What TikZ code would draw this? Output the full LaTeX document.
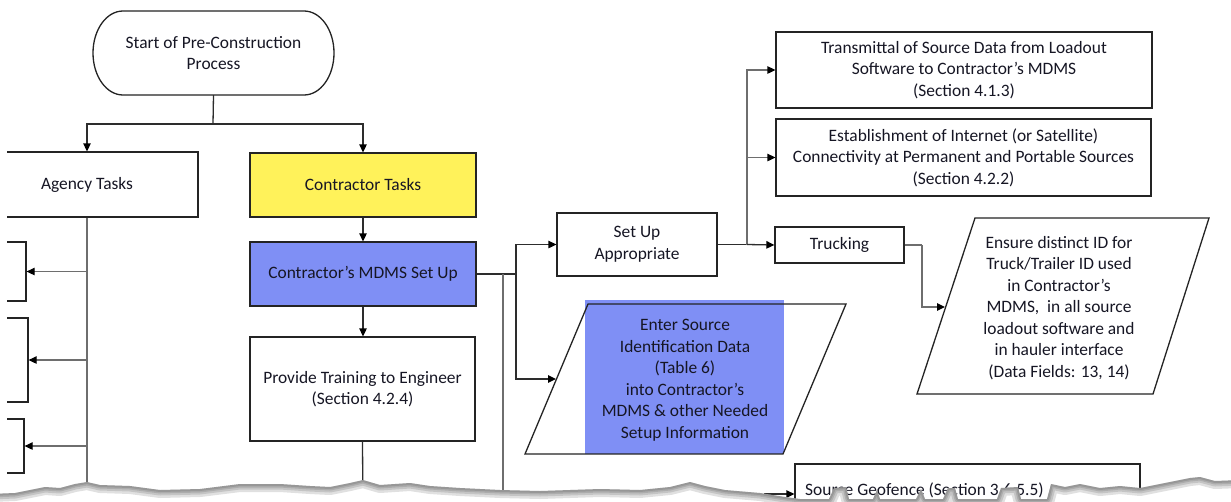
\documentclass[tikz,border=0pt]{standalone}
\usepackage{fontspec}
\setmainfont{Carlito}
\usetikzlibrary{arrows.meta}

\definecolor{ink}{RGB}{22,22,36}
\definecolor{rim}{RGB}{36,36,36}
\definecolor{wire}{RGB}{45,45,45}
\definecolor{wiregray}{RGB}{110,110,110}
\definecolor{taskyellow}{RGB}{255,242,90}
\definecolor{mdmsblue}{RGB}{127,143,245}
\newcommand\flowfont{\fontsize{17.4}{21.5}\selectfont}

\begin{document}
\begin{tikzpicture}[x=1pt,y=-1pt,
  box/.style={draw=rim,line width=1.3pt,inner sep=0pt,text=ink,align=center,font=\flowfont},
  txt/.style={text=ink,align=center,inner sep=0pt,font=\flowfont},
  sized/.style 2 args={minimum width=#1pt,minimum height=#2pt},
  outline/.style={draw=rim,line width=1.3pt,line join=miter},
  wireline/.style={draw=wire,line width=1.3pt},
  grayline/.style={draw=wiregray,line width=1.3pt},
  headed/.style={-{Triangle[length=8pt,width=7.5pt,color=black]}},
  torn/.style={insert path={(-10,494) -- (15,493) -- (30,490) -- (45,487) -- (60,488) -- (75,484) -- (87,482) -- (100,485) -- (130,486) -- (160,490) -- (200,489) -- (240,484) -- (280,484) -- (310,486) -- (330,487) -- (350,483) -- (363,480) -- (380,485) -- (410,483) -- (430,486) -- (460,488) -- (500,490) -- (540,491) -- (600,489) -- (640,490) -- (670,487) -- (690,482) -- (705,486) -- (725,490) -- (760,493) -- (785,497) -- (800,499) -- (829,499) -- (834,488) -- (846,487) -- (849,499) -- (873,499) -- (877,490) -- (880,499) -- (916,499) -- (921,489) -- (925,499) -- (943,499) -- (948,488) -- (955,488) -- (958,499) -- (997,499) -- (1001,488) -- (1018,487) -- (1021,499) -- (1047,499) -- (1051,484) -- (1065,487) -- (1080,484) -- (1100,488) -- (1120,486) -- (1140,488) -- (1170,482) -- (1190,478) -- (1200,477) -- (1215,481) -- (1241,480)}}
]

\fill[white] (0,0) rectangle (1231,501);
\useasboundingbox (0,0) rectangle (1231,501);

\begin{scope}
\clip (7,-2) rectangle (1233,503);

% ---- start terminal ----
\draw[outline] (123,11) -- (304,11)
  arc[start angle=90,end angle=-90,x radius=30pt,y radius=42pt]
  -- (123,95)
  arc[start angle=270,end angle=90,x radius=30pt,y radius=42pt] -- cycle;
\node[txt, sized={241}{84}] (start) at (213.5,53) {Start of Pre-Construction\\Process};

% ---- agency column ----
\node[box, sized={222}{65}] (agency) at (87,184.5) {Agency Tasks};
\node[box, sized={106}{59}] (agA) at (-27,271.5) {};
\node[box, sized={108}{84}] (agB) at (-26,360) {};
\node[box, sized={104}{54}] (agC) at (-28,446) {};

% ---- contractor column ----
\node[box, fill=taskyellow, sized={226}{64}] (ctask) at (363,185) {Contractor Tasks};
\node[box, fill=mdmsblue, sized={226}{64}] (mdms) at (363,274) {Contractor's MDMS Set Up};
\node[box, sized={225}{104}] (train) at (362.5,389) {Provide Training to Engineer\\(Section 4.2.4)};

% ---- set-up branch ----
\node[box, sized={160}{63}] (setup) at (637,244.5) {Set Up\\Appropriate};
\node[box, sized={376}{76}] (trans) at (964,70) {Transmittal of Source Data from Loadout\\Software to Contractor's MDMS\\(Section 4.1.3)};
\node[box, sized={375}{77}] (estab) at (963.5,157.5) {Establishment of Internet (or Satellite)\\Connectivity at Permanent and Portable Sources\\(Section 4.2.2)};
\node[box, sized={129}{36}] (truck) at (839.5,245) {Trucking};

% ---- data-entry parallelograms ----
\fill[mdmsblue] (585,300) rectangle (784,454);
\draw[outline] (588,304) -- (846,304) -- (783,454) -- (525,454) -- cycle;
\node[txt] (enter) at (685,380) {Enter Source\\Identification Data\\(Table 6)\\into Contractor's\\MDMS \& other Needed\\Setup Information};
\coordinate (enterIn) at (556,379);

\draw[outline] (975,218) -- (1209,218) -- (1153,394) -- (917,394) -- cycle;
\node[txt] (ensure) at (1059,308) {Ensure distinct ID for\\Truck/Trailer ID used\\in Contractor's\\MDMS,\ \ in all source\\loadout software and\\in hauler interface\\(Data Fields: 13, 14)};
\coordinate (ensureIn) at (945,307);

% ---- lower row ----
\node[box, sized={205}{43}] (lower) at (632.5,518.5) {};
\node[box, sized={345}{60}] (geo) at (967.5,494) {};
\node[txt, anchor=west] at (805,490) {Source Geofence (Section 3.6.5.5)};

% ---- connectors ----
\coordinate (split) at (213,124);
\draw[wireline] (start.south) -- (split);
\draw[wireline, headed] (split) -| (agency.north);
\draw[wireline, headed] (split) -| (ctask.north);
\draw[wireline, headed] (ctask.south) -- (ctask.south |- mdms.north);
\draw[wireline, headed] (mdms.south) -- (mdms.south |- train.north);
\coordinate (trainDown) at (363,520);
\draw[wireline] (train.south) -- (trainDown);

\coordinate (agencyDown) at (87,520);
\draw[grayline] (agency.south) -- (agencyDown);
\draw[grayline, headed] (agency.south |- agA.east) -- (agA.east);
\draw[grayline, headed] (agency.south |- agB.east) -- (agB.east);
\draw[grayline, headed] (agency.south |- agC.east) -- (agC.east);

\coordinate (mdmsJ) at (516,274);
\coordinate (mdmsTap) at (503,274);
\draw[wireline] (mdms.east) -- (mdmsJ);
\draw[wireline, headed] (mdmsJ) |- (setup.west);
\draw[wireline, headed] (mdmsJ) |- (enterIn);
\draw[grayline, headed] (mdmsTap) |- (lower.west);

\coordinate (fan) at (747,244.5);
\draw[wireline] (setup.east) -- (fan);
\draw[grayline, headed] (fan) |- (trans.west);
\draw[grayline, headed] (fan) |- (estab.west);
\draw[wireline, headed] (fan) -- (truck.west);

\coordinate (truckTurn) at (922,245);
\draw[grayline] (truck.east) -- (truckTurn);
\draw[grayline, headed] (truckTurn) |- (ensureIn);

\coordinate (geoFeed) at (765,530);
\draw[wireline, headed] (geoFeed) |- (geo.west);
\end{scope}

% ---- torn lower edge with its shadow ----
\begin{scope}
\clip[torn] -- (1241,520) -- (-10,520) -- cycle;
\fill[white] (-10,380) rectangle (1241,520);
\foreach \w in {16,11,7,4}{
  \draw[torn, line width=\w pt, draw=black, opacity=0.12, line join=round];
}
\end{scope}
\end{tikzpicture}
\end{document}
